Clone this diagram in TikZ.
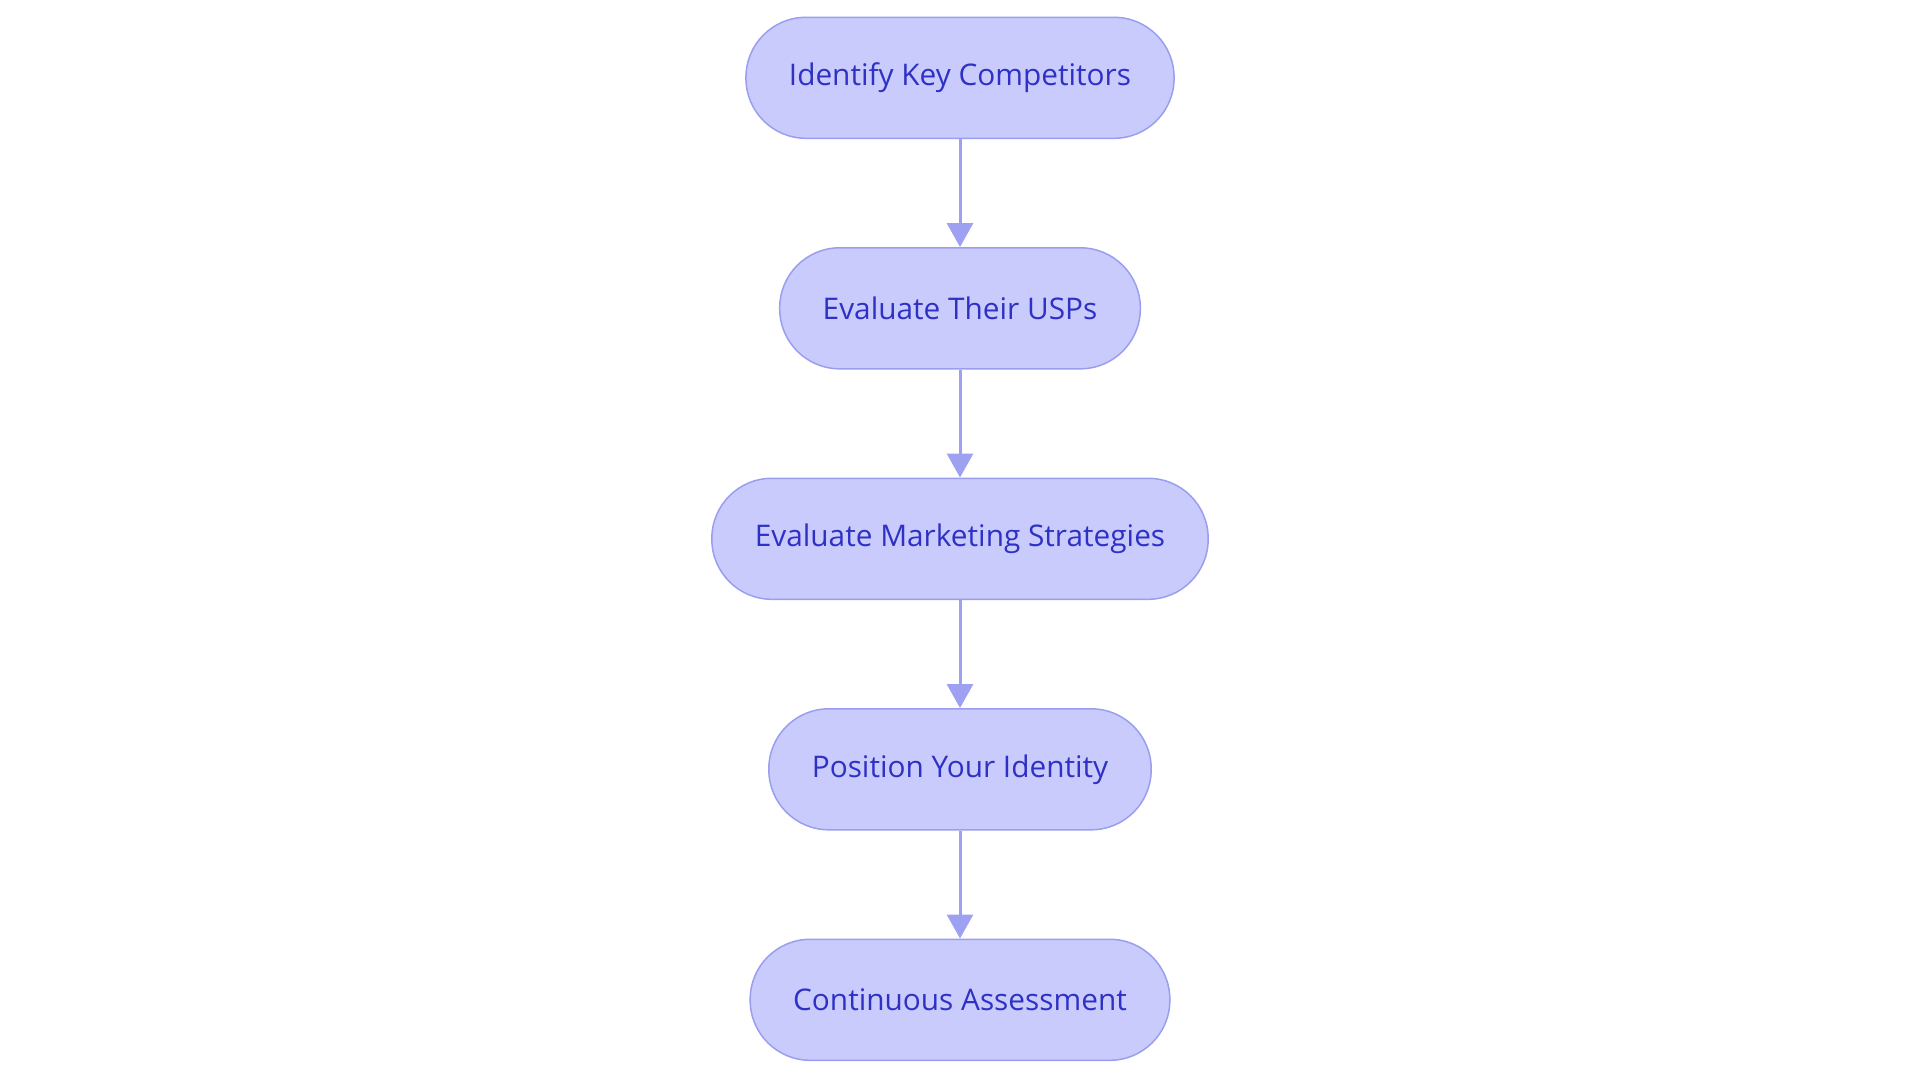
\documentclass[tikz,border=0pt]{standalone}
\usepackage{fontspec}
\setmainfont{Open Sans}
\usepackage{tikz}
\usetikzlibrary{positioning,%
                arrows.meta}
\definecolor{stepfill}{HTML}{C9CBFC}
\definecolor{stepdraw}{HTML}{9A9EEF}
\definecolor{steptext}{HTML}{2E31C4}
\definecolor{steparrow}{HTML}{9EA1F1}
\tikzset{stepbox/.style={
			  rectangle,
			  rounded corners = 60pt,
			  minimum height  = 121pt,
			  inner xsep      = 43pt,
			  line width      = 1.5pt,
			  draw            = stepdraw,
			  fill            = stepfill,
			  text            = steptext,
			  font            = \fontsize{29.8}{34}\selectfont,
			  text centered
			}}
\tikzset{steplink/.style={
			  line width      = 3pt,
			  draw            = steparrow,
			  -{Triangle[length=24pt,width=26pt,color=steparrow]}
			}}

\begin{document}
\begin{tikzpicture}[x=1pt, y=1pt, node distance=108pt]

    \useasboundingbox (0,0) rectangle (1920,-1083);

    \node (identify)   [stepbox] at (960,-77.8)      {Identify Key Competitors};
    \node (usps)       [stepbox, below=of identify]  {Evaluate Their USPs};
    \node (marketing)  [stepbox, below=of usps]      {Evaluate Marketing Strategies};
    \node (position)   [stepbox, below=of marketing] {Position Your Identity};
    \node (assessment) [stepbox, below=of position]  {Continuous Assessment};

    \draw [steplink] (identify)  to (usps);
    \draw [steplink] (usps)      to (marketing);
    \draw [steplink] (marketing) to (position);
    \draw [steplink] (position)  to (assessment);

\end{tikzpicture}
\end{document}
